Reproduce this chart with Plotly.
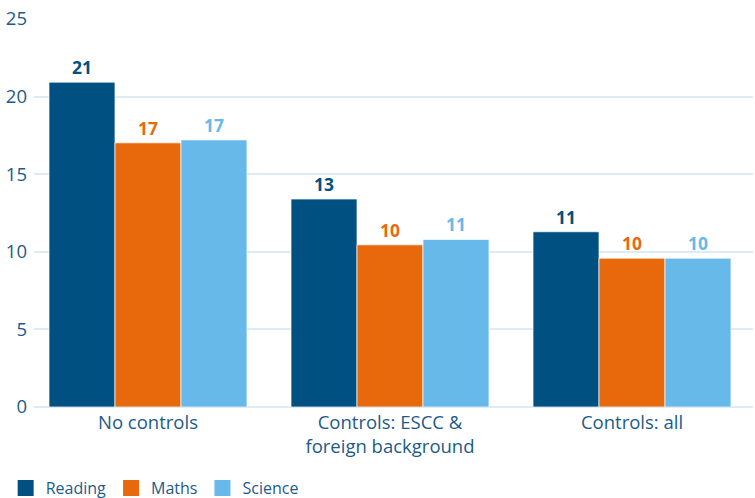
import plotly.graph_objects as go

categories = ["No controls", "Controls: ESCC &<br>foreign background", "Controls: all"]
reading = [20.93, 13.40, 11.29]
maths = [17.02, 10.45, 9.59]
science = [17.21, 10.80, 9.59]

series = [
    ("Reading", reading, "#005081"),
    ("Maths", maths, "#e8690c"),
    ("Science", science, "#66b9e9"),
]

fig = go.Figure()
for name, vals, color in series:
    fig.add_trace(go.Bar(
        name=name,
        x=categories,
        y=vals,
        showlegend=False,
        marker=dict(color=color, line=dict(color="rgba(255,255,255,0.7)", width=1)),
        texttemplate="%{y:.0f}",
        textposition="outside",
        cliponaxis=False,
        textfont=dict(family="Open Sans", size=17.5, color=color, weight="bold"),
    ))

# legend entries with square swatches
for name, vals, color in series:
    fig.add_trace(go.Scatter(
        name=name,
        x=[None], y=[None],
        mode="markers",
        marker=dict(symbol="square", size=16, color=color),
        showlegend=True,
    ))

axis_color = "#1c5b8b"
fig.update_layout(
    width=755,
    height=498,
    margin=dict(l=34, r=2, t=19, b=91, autoexpand=False),
    paper_bgcolor="white",
    plot_bgcolor="white",
    barmode="group",
    bargap=0.182,
    bargroupgap=0,
    font=dict(family="Open Sans", color=axis_color),
    showlegend=True,
    legend=dict(
        orientation="h",
        x=0.0075, xanchor="left", xref="container",
        y=-0.165, yanchor="top", yref="paper",
        font=dict(family="Open Sans", size=16, color=axis_color),
        itemwidth=30,
        tracegroupgap=0,
        traceorder="normal",
    ),
    xaxis=dict(
        range=[-0.471, 2.5],
        tickfont=dict(size=18.5, color=axis_color),
        showgrid=False,
        showline=False,
        ticks="",
        ticklabelstandoff=2,
    ),
    yaxis=dict(
        range=[0, 25],
        tick0=0,
        dtick=5,
        tickfont=dict(size=18.5, color=axis_color),
        gridcolor="#ddebf6",
        gridwidth=1.5,
        zeroline=True,
        zerolinecolor="#ddebf6",
        zerolinewidth=1.5,
        showline=False,
        ticks="",
        ticklabelstandoff=6,
    ),
)

fig.write_html("out.html")
